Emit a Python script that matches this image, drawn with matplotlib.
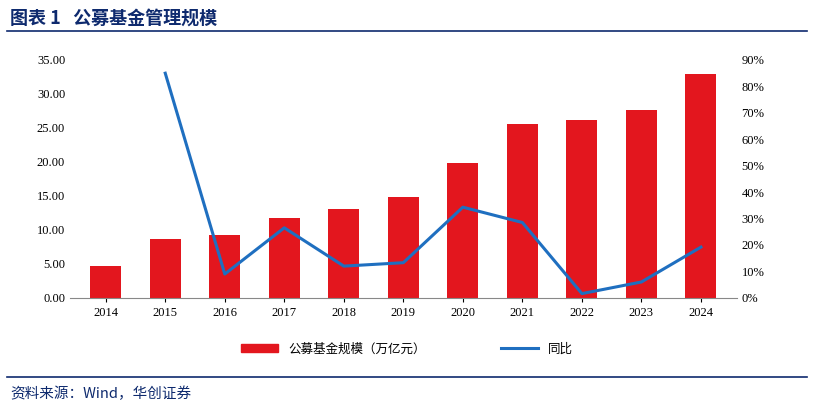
import matplotlib.pyplot as plt
from matplotlib.lines import Line2D
import numpy as np

plt.rcParams['font.family'] = ['Noto Sans CJK SC', 'DejaVu Sans']

years = ['2014', '2015', '2016', '2017', '2018', '2019', '2020', '2021', '2022', '2023', '2024']
scale = [4.7, 8.6, 9.2, 11.7, 13.1, 14.9, 19.9, 25.6, 26.1, 27.6, 33.0]
yoy = [np.nan, 85.0, 9.0, 26.5, 12.0, 13.3, 34.3, 28.5, 1.6, 6.0, 19.2]

fig = plt.figure(figsize=(8.14, 4.08), dpi=100)
ax = fig.add_axes([0.086, 0.27, 0.819, 0.583])
x = np.arange(len(years))
ax.bar(x, scale, width=0.52, color='#E3161E', label='公募基金规模（万亿元）')
ax.set_ylim(0, 35)
ax.set_yticks(np.arange(0, 35.1, 5))
ax.set_yticklabels([f'{v:.2f}' for v in np.arange(0, 35.1, 5)], family='Liberation Serif')
ax.set_xticks(x)
ax.set_xticklabels(years, family='Liberation Serif')
ax.set_xlim(-0.6, len(years) - 0.4)
ax.tick_params(labelsize=9, length=0)
ax.tick_params(axis='x', length=3, direction='out')
for s in ['top', 'right', 'left']:
    ax.spines[s].set_visible(False)
ax.spines['bottom'].set_color('#888888')

ax2 = ax.twinx()
ax2.plot(x, yoy, color='#1F6FC0', lw=2.2)
ax2.set_ylim(0, 90)
ax2.set_yticks(np.arange(0, 91, 10))
ax2.set_yticklabels([f'{v}%' for v in range(0, 91, 10)], family='Liberation Serif')
ax2.tick_params(labelsize=9, length=0)
for s in ['top', 'right', 'left', 'bottom']:
    ax2.spines[s].set_visible(False)

handles = [plt.Rectangle((0, 0), 1, 1, color='#E3161E'),
           Line2D([0], [0], color='#1F6FC0', lw=2.2)]
fig.legend(handles, ['公募基金规模（万亿元）', '同比'], loc='center', bbox_to_anchor=(0.5, 0.145),
           ncol=2, frameon=False, fontsize=9, columnspacing=6, handlelength=3)

navy = '#0E2A6E'
fig.text(0.012, 0.955, '图表 1   公募基金管理规模', fontsize=13, fontweight='bold', color=navy, va='center')
fig.add_artist(Line2D([0.008, 0.992], [0.925, 0.925], color=navy, lw=1.2))
fig.add_artist(Line2D([0.008, 0.992], [0.075, 0.075], color=navy, lw=1.2))
fig.text(0.012, 0.035, '资料来源：Wind，华创证券', fontsize=10.5, style='italic', color=navy, va='center')

fig.savefig('out.png', dpi=100)
